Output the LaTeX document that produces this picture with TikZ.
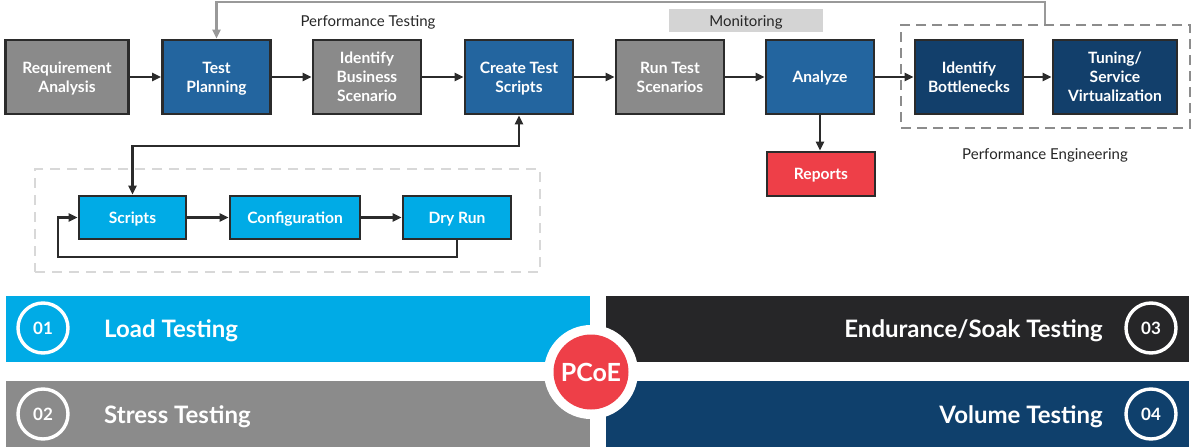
\documentclass[tikz,border=0pt]{standalone}
\usepackage{fontspec}
\setmainfont{Lato}
\usetikzlibrary{arrows.meta}
\definecolor{boxline}{HTML}{2B2B2B}
\definecolor{cgray}{HTML}{8A8A8A}
\definecolor{cblue}{HTML}{23659F}
\definecolor{cnavy}{HTML}{123F6B}
\definecolor{clight}{HTML}{00ABE6}
\definecolor{cred}{HTML}{EE3F48}
\definecolor{bblack}{HTML}{262628}
\definecolor{bnavy}{HTML}{0F406C}
\definecolor{bgray}{HTML}{8B8B8B}
\definecolor{mon}{HTML}{D4D4D4}
\definecolor{fbgray}{HTML}{999999}
\definecolor{dashgray}{HTML}{8C8C8C}
\definecolor{dashlight}{HTML}{D8D8D8}
\begin{document}
\begin{tikzpicture}[x=1pt,y=-1pt,
  box/.style={draw=boxline, line width=2.6pt, minimum width=108pt, minimum height=74pt,
    text=white, font=\bfseries\fontsize{15.6}{18.8}\selectfont, align=center, inner sep=0pt,
    text depth=0pt},
  sbox/.style={box, minimum height=43pt, fill=clight},
  arr/.style={draw=boxline, line width=2.5pt, -{Triangle[length=9pt,width=8pt]}},
  fb/.style={draw=fbgray, line width=2.5pt, -{Triangle[length=9pt,width=8pt]}},
  bandtext/.style={text=white, font=\bfseries\fontsize{24}{28}\selectfont, inner sep=0pt},
  numc/.style={circle, draw=white, line width=3.4pt, minimum size=50pt, inner sep=0pt,
    text=white, font=\bfseries\fontsize{17}{20}\selectfont},
  lbl/.style={font=\fontsize{15}{18}\selectfont, text=black!85, inner sep=0pt}
]
\useasboundingbox (0,0) rectangle (1192,447);

% Bands
\fill[clight] (6,296) rectangle (590,362);
\fill[bgray] (6,381) rectangle (590,447);
\fill[bblack] (606,296) rectangle (1189,362);
\fill[bnavy] (606,381) rectangle (1189,447);

\node[numc] (n1) at (43,328) {01};
\node[numc] (n2) at (43,414) {02};
\node[numc] (n3) at (1151,328) {03};
\node[numc] (n4) at (1151,414) {04};

\node[bandtext, anchor=base west] (t1) at (104,337) {Load Testing};
\node[bandtext, anchor=base west] (t2) at (104,423) {Stress Testing};
\node[bandtext, anchor=base east] (t3) at (1103,337) {Endurance/Soak Testing};
\node[bandtext, anchor=base east] (t4) at (1103,423) {Volume Testing};

\fill[white] (591,372) circle (47);
\node[circle, fill=cred, minimum size=75pt, inner sep=0pt, text=white,
  font=\bfseries\fontsize{25}{28}\selectfont] (pcoe) at (591,372) {PCoE};

% Dashed groups
\node[draw=dashlight, line width=2pt, dash pattern=on 10pt off 7pt,
  minimum width=505pt, minimum height=103pt, inner sep=0pt] (grp) at (287.5,220.5) {};
\node[draw=dashgray, line width=2.5pt, dash pattern=on 10pt off 6pt,
  minimum width=289pt, minimum height=103pt, inner sep=0pt] (pe) at (1045.5,76.5) {};

% Monitoring
\node[fill=mon, minimum width=154pt, minimum height=23pt, inner sep=0pt] (monbg) at (746,20.5) {};
\node[lbl, anchor=base] (mont) at (746,27) {Monitoring};
\node[lbl, anchor=base] (ptl) at (368,27) {Performance Testing};
\node[lbl, anchor=base] (pel) at (1045,159) {Performance Engineering};

% Top row
\node[box, fill=cgray, minimum width=123pt] (req) at (67,77) {Requirement\\Analysis};
\node[box, fill=cblue] (tp) at (216.5,77) {Test\\Planning};
\node[box, fill=cgray] (ibs) at (367,77) {Identify\\Business\\Scenario};
\node[box, fill=cblue] (cts) at (519,77) {Create Test\\Scripts};
\node[box, fill=cgray] (rts) at (670,77) {Run Test\\Scenarios};
\node[box, fill=cblue] (an) at (820,77) {Analyze};
\node[box, fill=cnavy] (bn) at (969,77) {Identify\\Bottlenecks};
\node[box, fill=cnavy, minimum width=124pt] (tun) at (1115,77) {Tuning/\\Service\\Virtualization};

\node[box, fill=cred, minimum height=44pt] (rep) at (821,174) {Reports};

% Sub row
\node[sbox, minimum width=107pt] (scr) at (132.5,217.5) {Scripts};
\node[sbox, minimum width=130pt] (cfg) at (295,217.5) {Configuration};
\node[sbox] (dry) at (457,217.5) {Dry Run};

% Connectors
\draw[arr] (req.east) -- (tp.west);
\draw[arr] (tp.east) -- (ibs.west);
\draw[arr] (ibs.east) -- (cts.west);
\draw[arr] (cts.east) -- (rts.west);
\draw[arr] (rts.east) -- (an.west);
\draw[arr] (an.east) -- (bn.west);
\draw[arr] (bn.east) -- (tun.west);
\draw[arr] (an.south) -- (an.south |- rep.north);

\coordinate (fbx) at (1045,2);
\draw[fb] (pe.north -| fbx) -- (fbx) -| (tp.north);

\coordinate (jn) at (0,146);
\draw[arr, {Triangle[length=9pt,width=8pt]}-{Triangle[length=9pt,width=8pt]}] (scr.north) -- (scr.north |- jn) -| (cts.south);

\draw[arr] (scr.east) -- (cfg.west);
\draw[arr] (cfg.east) -- (dry.west);
\coordinate (lp) at (58,257);
\draw[arr] (dry.south) |- (lp) |- (scr.west);
\end{tikzpicture}
\end{document}
